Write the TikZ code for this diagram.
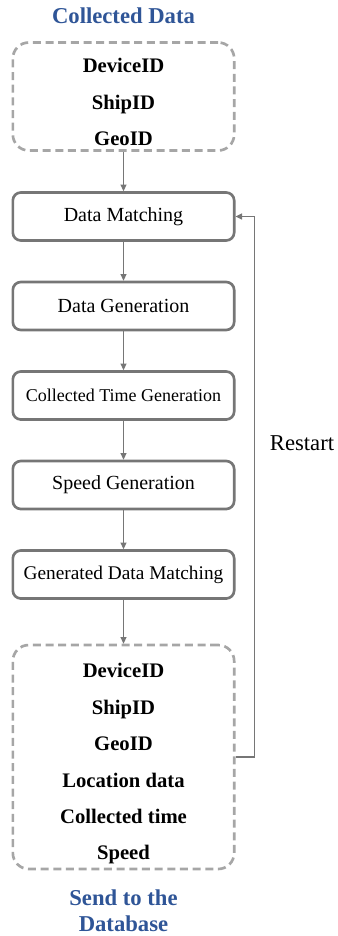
\documentclass[tikz,border=0pt]{standalone}
\usepackage{fontspec}
\setmainfont{Liberation Serif}
\usetikzlibrary{arrows.meta}

\definecolor{titleblue}{RGB}{47,85,151}
\definecolor{boxgray}{RGB}{118,118,118}
\definecolor{dashgray}{RGB}{166,166,166}

\begin{document}
\begin{tikzpicture}[x=0.75pt, y=-0.75pt, >={Triangle[length=5pt,width=4.5pt]}, thick,
  procbox/.style={draw=boxgray, line width=2pt, rounded corners=6pt, rectangle,
    minimum width=166pt, minimum height=36pt, inner sep=0pt, font=\fontsize{15}{18}\selectfont},
  databox/.style={draw=dashgray, line width=2pt, dash pattern=on 6pt off 3.5pt,
    rounded corners=12pt, rectangle, minimum width=166pt, inner sep=0pt},
  items/.style={align=center, inner sep=0pt, font=\bfseries\fontsize{15.5}{27.5}\selectfont},
  heading/.style={align=center, inner sep=0pt, text=titleblue, font=\bfseries\fontsize{17}{19.5}\selectfont},
  flow/.style={draw=boxgray, line width=1.1pt, ->}]
\useasboundingbox (0,0) rectangle (338,936);

% input record
\node[heading] (title) at (123.5,16) {Collected Data};
\node[databox, minimum height=81pt] (src) at (123.5,96.5) {};
\node[items] (srcitems) at (123.5,102) {DeviceID\\ShipID\\GeoID};

% processing steps
\node[procbox] (match) at (123.5,216.5) {Data Matching};
\node[procbox] (gen) at (123.5,306) {Data Generation};
\node[procbox, font=\fontsize{13.5}{16}\selectfont] (time) at (123.5,395.5) {Collected Time Generation};
\node[procbox] (speed) at (123.5,485) {Speed Generation};
\node[procbox, font=\fontsize{14.5}{17}\selectfont] (genmatch) at (123.5,574.5) {Generated Data Matching};

% output record
\node[databox, minimum height=168pt] (dst) at (123.5,757) {};
\node[items, font=\bfseries\fontsize{15.5}{27.3}\selectfont] (dstitems) at (123.5,764) {DeviceID\\ShipID\\GeoID\\Location data\\Collected time\\Speed};
\node[heading] (sendto) at (123.5,911) {Send to the\\Database};

\draw[flow] (src) -- (match);
\draw[flow] (match) -- (gen);
\draw[flow] (gen) -- (time);
\draw[flow] (time) -- (speed);
\draw[flow] (speed) -- (genmatch);
\draw[flow] (genmatch) -- (dst);

% loop back
\draw[flow] (dst.east) -- ++(19,0) |- (match.east);
\node[font=\fontsize{17}{20}\selectfont, inner sep=0pt] (restart) at (302,443) {Restart};
\end{tikzpicture}
\end{document}
